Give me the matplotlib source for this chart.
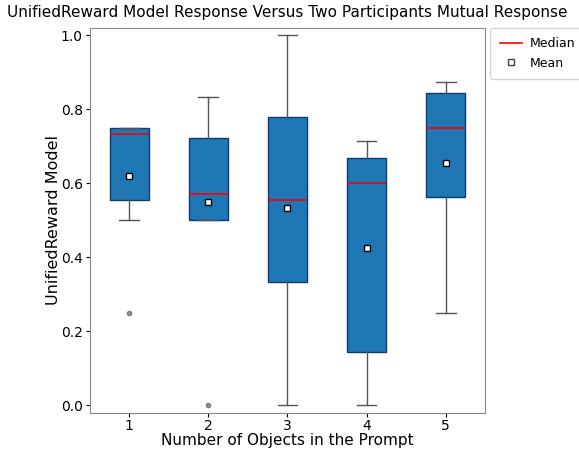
import matplotlib
matplotlib.use("Agg")
import matplotlib.pyplot as plt
from matplotlib.lines import Line2D

# five-number summaries per prompt size
n_objects = [1, 2, 3, 4, 5]
q1 = [0.554, 0.500, 0.333, 0.143, 0.563]
med = [0.732, 0.571, 0.556, 0.600, 0.749]
q3 = [0.750, 0.722, 0.778, 0.667, 0.844]
whis_lo = [0.500, 0.500, 0.000, 0.000, 0.250]
whis_hi = [0.750, 0.833, 1.000, 0.714, 0.875]
means = [0.619, 0.550, 0.533, 0.424, 0.656]
outliers = [[0.25], [0.0], [], [], []]

stats = []
for i in range(len(n_objects)):
    stats.append({
        "label": str(n_objects[i]),
        "q1": q1[i], "med": med[i], "q3": q3[i],
        "whislo": whis_lo[i], "whishi": whis_hi[i],
        "mean": means[i], "fliers": outliers[i],
    })

fig = plt.figure(figsize=(5.79, 4.5), dpi=100)
ax = fig.add_axes([0.155, 0.083, 0.683, 0.855])

ax.bxp(stats, positions=n_objects, widths=0.5, patch_artist=True,
       showmeans=True,
       boxprops=dict(facecolor="#1f77b4", edgecolor="#0d3a75", linewidth=1),
       medianprops=dict(color="red", linewidth=1.2),
       whiskerprops=dict(color="#555555", linewidth=1),
       capprops=dict(color="#555555", linewidth=1),
       meanprops=dict(marker="s", markerfacecolor="white",
                      markeredgecolor="black", markersize=5),
       flierprops=dict(marker="o", markerfacecolor="#999999",
                       markeredgecolor="#777777", markersize=3))

ax.set_xlim(0.5, 5.5)
ax.set_ylim(-0.02, 1.02)
ax.set_title("UnifiedReward Model Response Versus Two Participants Mutual Response",
             fontsize=11, pad=8)
ax.set_xlabel("Number of Objects in the Prompt", fontsize=11, labelpad=0)
ax.set_ylabel("UnifiedReward Model", fontsize=11.5, labelpad=0)
ax.tick_params(labelsize=10, length=3)
ax.tick_params(axis="x", pad=1.5)
ax.tick_params(axis="y", pad=2)
for s in ax.spines.values():
    s.set_color("#888888")

# legend only for median line and mean marker
handles = [Line2D([0], [0], color="red", linewidth=1.2),
           Line2D([0], [0], marker="s", linestyle="none", markerfacecolor="white",
                  markeredgecolor="#444444", markersize=5)]
ax.legend(handles, ["Median", "Mean"], loc="upper left",
          bbox_to_anchor=(1.013, 1.0), borderaxespad=0, fontsize=9,
          handlelength=1.8, handletextpad=0.6, borderpad=0.75)

fig.savefig("out.png", dpi=100)
